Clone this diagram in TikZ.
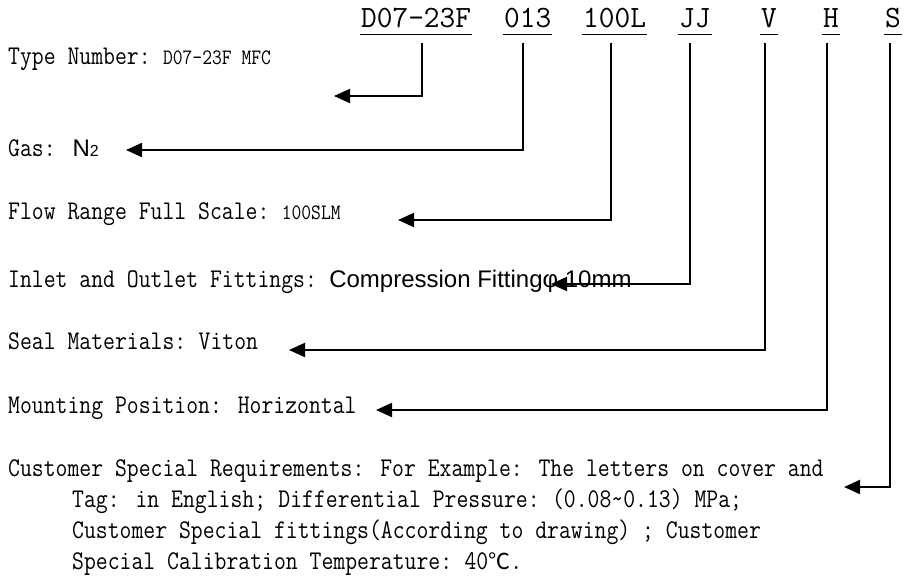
\documentclass[tikz,border=0pt]{standalone}
\usepackage{fontspec}
\usetikzlibrary{arrows.meta}
\newfontfamily\bodyfont[FakeStretch=0.854]{Latin Modern Mono}
\newfontfamily\codefont[FakeStretch=0.983]{Latin Modern Mono}
\newfontfamily\smallfont[FakeStretch=0.866]{Latin Modern Mono}
\newfontfamily\cjkfont{Noto Sans CJK SC}
\newfontfamily\arialfont{Liberation Sans}
\newcommand\fwc{\makebox[24.2pt][l]{:}}
\newcommand\fws{\makebox[24.2pt][l]{;}}
\newcommand\degc{{\cjkfont\fontsize{22}{26}\selectfont ℃}}
\newcommand\smt[1]{{\smallfont\fontsize{22}{24}\selectfont #1}}
\newcommand\art[1]{{\arialfont\fontsize{24}{28}\selectfont #1}}
\begin{document}
\begin{tikzpicture}[x=1pt,y=-1pt,
  body/.style={anchor=base west, inner sep=0pt, font=\bodyfont\fontsize{27}{31}\selectfont},
  code/.style={anchor=base west, inner sep=0pt, font=\codefont\fontsize{31}{36}\selectfont},
  lead/.style={line width=2pt, -{Triangle[length=16pt,width=14pt]}},
  uline/.style={line width=1.5pt}]
\useasboundingbox (0,0) rectangle (910,579);
% top code
\node[code] (c1) at (361,27.5) {D07-23F};
\node[code] (c2) at (504,27.5) {013};
\node[code] (c3) at (583,27.5) {100L};
\node[code] (c4) at (679,27.5) {JJ};
\node[code] (c5) at (761,27.5) {V};
\node[code] (c6) at (823,27.5) {H};
\node[code] (c7) at (885,27.5) {S};
\foreach \c in {c1,c2,c3,c4,c5,c6,c7}
  \draw[uline] ([xshift=-1pt,yshift=-7pt]\c.base west) -- ([xshift=1pt,yshift=-7pt]\c.base east);
% text lines
\node[body] (l1) at (8,64) {Type Number\fwc\smt{D07-23F MFC}};
\node[body] (l2) at (8,156) {Gas\fwc\,\art{N{\fontsize{16}{18}\selectfont 2}}};
\node[body] (l3) at (8,219) {Flow Range Full Scale\fwc\smt{100SLM}};
\node[body] (l4) at (8,287) {Inlet and Outlet Fittings\fwc\art{Compression Fittingφ 10mm}};
\node[body] (l5) at (8,349) {Seal Materials\fwc Viton};
\node[body] (l6) at (8,413) {Mounting Position: Horizontal};
\node[body] (l7) at (8,476) {Customer Special Requirements: For Example: The letters on cover and};
\node[body] (l8) at (72,507) {Tag: in English\fws Differential Pressure\fwc(0.08\char`~0.13) MPa\fws};
\node[body] (l9) at (72,538) {Customer Special fittings(According to drawing) ; Customer};
\node[body] (l10) at (72,569) {Special Calibration Temperature\fwc 40\degc.};
% leaders
\coordinate (k1) at (422,43); \coordinate (t1) at (334,96);
\coordinate (k2) at (523,43); \coordinate (t2) at (126,150);
\coordinate (k3) at (611,43); \coordinate (t3) at (398,220);
\coordinate (k4) at (690,43); \coordinate (t4) at (551,284);
\coordinate (k5) at (765,43); \coordinate (t5) at (289,350);
\coordinate (k6) at (827,43); \coordinate (t6) at (376,410);
\coordinate (k7) at (890,43); \coordinate (t7) at (844,487);
\foreach \i in {1,...,7}
  \draw[lead] (k\i) |- (t\i);
\end{tikzpicture}
\end{document}
